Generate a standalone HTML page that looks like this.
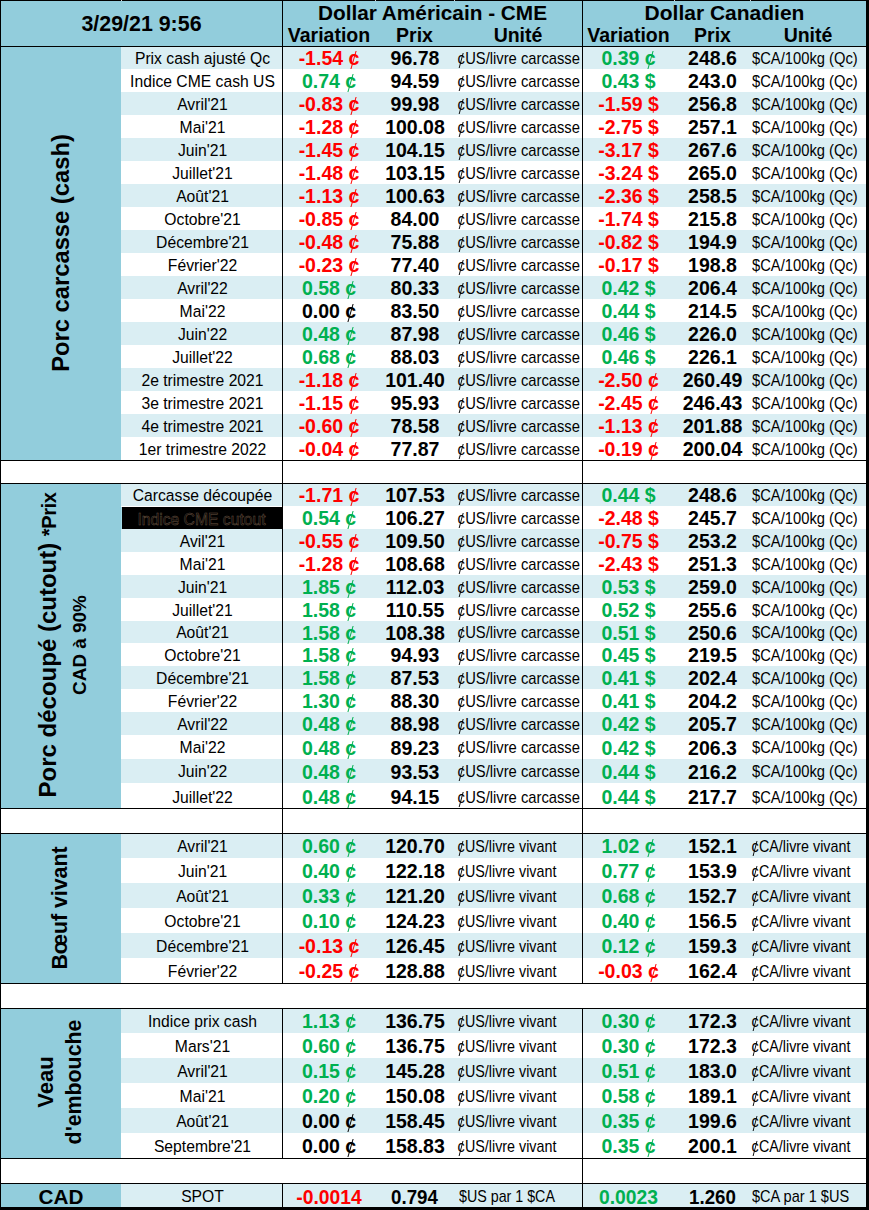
<!DOCTYPE html>
<html><head><meta charset="utf-8"><style>
html,body{margin:0;padding:0;background:#fff;}
body{width:869px;height:1210px;position:relative;overflow:hidden;font-family:"Liberation Sans",sans-serif;}
div{position:absolute;}
.t{white-space:nowrap;overflow:visible;}
.r{white-space:nowrap;font-weight:bold;text-align:center;transform:translate(-50%,-50%) rotate(-90deg);color:#000;}
.r span{position:static;}
.ct{position:relative;}
.cr{padding:0 0.028em;}
.ct::after{content:"";position:absolute;left:50%;top:0.2em;height:0.93em;width:1.2px;margin-left:-0.6px;background:currentColor;transform:skewX(-16deg);}
</style></head><body>
<div style="left:1px;top:1px;width:865px;height:45px;background:#92cddc;"></div>
<div style="left:121px;top:46px;width:745px;height:23px;background:#daeef3;"></div>
<div style="left:121px;top:69px;width:745px;height:23px;background:#ffffff;"></div>
<div style="left:121px;top:92px;width:745px;height:23px;background:#daeef3;"></div>
<div style="left:121px;top:115px;width:745px;height:23px;background:#ffffff;"></div>
<div style="left:121px;top:138px;width:745px;height:23px;background:#daeef3;"></div>
<div style="left:121px;top:161px;width:745px;height:23px;background:#ffffff;"></div>
<div style="left:121px;top:184px;width:745px;height:23px;background:#daeef3;"></div>
<div style="left:121px;top:207px;width:745px;height:23px;background:#ffffff;"></div>
<div style="left:121px;top:230px;width:745px;height:23px;background:#daeef3;"></div>
<div style="left:121px;top:253px;width:745px;height:23px;background:#ffffff;"></div>
<div style="left:121px;top:276px;width:745px;height:23px;background:#daeef3;"></div>
<div style="left:121px;top:299px;width:745px;height:23px;background:#ffffff;"></div>
<div style="left:121px;top:322px;width:745px;height:23px;background:#daeef3;"></div>
<div style="left:121px;top:345px;width:745px;height:23px;background:#ffffff;"></div>
<div style="left:121px;top:368px;width:745px;height:23px;background:#daeef3;"></div>
<div style="left:121px;top:391px;width:745px;height:23px;background:#ffffff;"></div>
<div style="left:121px;top:414px;width:745px;height:23px;background:#daeef3;"></div>
<div style="left:121px;top:437px;width:745px;height:23px;background:#ffffff;"></div>
<div style="left:1px;top:46px;width:120px;height:414px;background:#92cddc;"></div>
<div class="t" style="left:121.5px;top:47px;width:161px;height:23px;line-height:23px;font-size:16.8px;font-weight:normal;color:#000;text-align:center;transform:scaleX(0.935);transform-origin:center center;">Prix cash ajusté Qc</div>
<div class="t" style="left:283px;top:47px;width:92px;height:23px;line-height:23px;font-size:19.5px;font-weight:bold;color:#ff0000;text-align:center;">-1.54 <span class="ct">c</span></div>
<div class="t" style="left:375.5px;top:47px;width:79px;height:23px;line-height:23px;font-size:19.5px;font-weight:bold;color:#000;text-align:center;">96.78</div>
<div class="t" style="left:457px;top:47px;width:124px;height:23px;line-height:23px;font-size:15.7px;font-weight:normal;color:#000;text-align:left;transform:scaleX(0.94);transform-origin:left center;"><span class="ct cr">c</span>US/livre carcasse</div>
<div class="t" style="left:583px;top:47px;width:91px;height:23px;line-height:23px;font-size:19.5px;font-weight:bold;color:#00b050;text-align:center;">0.39 <span class="ct">c</span></div>
<div class="t" style="left:675px;top:47px;width:75px;height:23px;line-height:23px;font-size:19.5px;font-weight:bold;color:#000;text-align:center;">248.6</div>
<div class="t" style="left:752px;top:47px;width:114px;height:23px;line-height:23px;font-size:15.7px;font-weight:normal;color:#000;text-align:left;transform:scaleX(0.94);transform-origin:left center;">$CA/100kg (Qc)</div>
<div class="t" style="left:121.5px;top:70px;width:161px;height:23px;line-height:23px;font-size:16.8px;font-weight:normal;color:#000;text-align:center;transform:scaleX(0.935);transform-origin:center center;">Indice CME cash US</div>
<div class="t" style="left:283px;top:70px;width:92px;height:23px;line-height:23px;font-size:19.5px;font-weight:bold;color:#00b050;text-align:center;">0.74 <span class="ct">c</span></div>
<div class="t" style="left:375.5px;top:70px;width:79px;height:23px;line-height:23px;font-size:19.5px;font-weight:bold;color:#000;text-align:center;">94.59</div>
<div class="t" style="left:457px;top:70px;width:124px;height:23px;line-height:23px;font-size:15.7px;font-weight:normal;color:#000;text-align:left;transform:scaleX(0.94);transform-origin:left center;"><span class="ct cr">c</span>US/livre carcasse</div>
<div class="t" style="left:583px;top:70px;width:91px;height:23px;line-height:23px;font-size:19.5px;font-weight:bold;color:#00b050;text-align:center;">0.43 $</div>
<div class="t" style="left:675px;top:70px;width:75px;height:23px;line-height:23px;font-size:19.5px;font-weight:bold;color:#000;text-align:center;">243.0</div>
<div class="t" style="left:752px;top:70px;width:114px;height:23px;line-height:23px;font-size:15.7px;font-weight:normal;color:#000;text-align:left;transform:scaleX(0.94);transform-origin:left center;">$CA/100kg (Qc)</div>
<div class="t" style="left:121.5px;top:93px;width:161px;height:23px;line-height:23px;font-size:16.8px;font-weight:normal;color:#000;text-align:center;transform:scaleX(0.935);transform-origin:center center;">Avril'21</div>
<div class="t" style="left:283px;top:93px;width:92px;height:23px;line-height:23px;font-size:19.5px;font-weight:bold;color:#ff0000;text-align:center;">-0.83 <span class="ct">c</span></div>
<div class="t" style="left:375.5px;top:93px;width:79px;height:23px;line-height:23px;font-size:19.5px;font-weight:bold;color:#000;text-align:center;">99.98</div>
<div class="t" style="left:457px;top:93px;width:124px;height:23px;line-height:23px;font-size:15.7px;font-weight:normal;color:#000;text-align:left;transform:scaleX(0.94);transform-origin:left center;"><span class="ct cr">c</span>US/livre carcasse</div>
<div class="t" style="left:583px;top:93px;width:91px;height:23px;line-height:23px;font-size:19.5px;font-weight:bold;color:#ff0000;text-align:center;">-1.59 $</div>
<div class="t" style="left:675px;top:93px;width:75px;height:23px;line-height:23px;font-size:19.5px;font-weight:bold;color:#000;text-align:center;">256.8</div>
<div class="t" style="left:752px;top:93px;width:114px;height:23px;line-height:23px;font-size:15.7px;font-weight:normal;color:#000;text-align:left;transform:scaleX(0.94);transform-origin:left center;">$CA/100kg (Qc)</div>
<div class="t" style="left:121.5px;top:116px;width:161px;height:23px;line-height:23px;font-size:16.8px;font-weight:normal;color:#000;text-align:center;transform:scaleX(0.935);transform-origin:center center;">Mai'21</div>
<div class="t" style="left:283px;top:116px;width:92px;height:23px;line-height:23px;font-size:19.5px;font-weight:bold;color:#ff0000;text-align:center;">-1.28 <span class="ct">c</span></div>
<div class="t" style="left:375.5px;top:116px;width:79px;height:23px;line-height:23px;font-size:19.5px;font-weight:bold;color:#000;text-align:center;">100.08</div>
<div class="t" style="left:457px;top:116px;width:124px;height:23px;line-height:23px;font-size:15.7px;font-weight:normal;color:#000;text-align:left;transform:scaleX(0.94);transform-origin:left center;"><span class="ct cr">c</span>US/livre carcasse</div>
<div class="t" style="left:583px;top:116px;width:91px;height:23px;line-height:23px;font-size:19.5px;font-weight:bold;color:#ff0000;text-align:center;">-2.75 $</div>
<div class="t" style="left:675px;top:116px;width:75px;height:23px;line-height:23px;font-size:19.5px;font-weight:bold;color:#000;text-align:center;">257.1</div>
<div class="t" style="left:752px;top:116px;width:114px;height:23px;line-height:23px;font-size:15.7px;font-weight:normal;color:#000;text-align:left;transform:scaleX(0.94);transform-origin:left center;">$CA/100kg (Qc)</div>
<div class="t" style="left:121.5px;top:139px;width:161px;height:23px;line-height:23px;font-size:16.8px;font-weight:normal;color:#000;text-align:center;transform:scaleX(0.935);transform-origin:center center;">Juin'21</div>
<div class="t" style="left:283px;top:139px;width:92px;height:23px;line-height:23px;font-size:19.5px;font-weight:bold;color:#ff0000;text-align:center;">-1.45 <span class="ct">c</span></div>
<div class="t" style="left:375.5px;top:139px;width:79px;height:23px;line-height:23px;font-size:19.5px;font-weight:bold;color:#000;text-align:center;">104.15</div>
<div class="t" style="left:457px;top:139px;width:124px;height:23px;line-height:23px;font-size:15.7px;font-weight:normal;color:#000;text-align:left;transform:scaleX(0.94);transform-origin:left center;"><span class="ct cr">c</span>US/livre carcasse</div>
<div class="t" style="left:583px;top:139px;width:91px;height:23px;line-height:23px;font-size:19.5px;font-weight:bold;color:#ff0000;text-align:center;">-3.17 $</div>
<div class="t" style="left:675px;top:139px;width:75px;height:23px;line-height:23px;font-size:19.5px;font-weight:bold;color:#000;text-align:center;">267.6</div>
<div class="t" style="left:752px;top:139px;width:114px;height:23px;line-height:23px;font-size:15.7px;font-weight:normal;color:#000;text-align:left;transform:scaleX(0.94);transform-origin:left center;">$CA/100kg (Qc)</div>
<div class="t" style="left:121.5px;top:162px;width:161px;height:23px;line-height:23px;font-size:16.8px;font-weight:normal;color:#000;text-align:center;transform:scaleX(0.935);transform-origin:center center;">Juillet'21</div>
<div class="t" style="left:283px;top:162px;width:92px;height:23px;line-height:23px;font-size:19.5px;font-weight:bold;color:#ff0000;text-align:center;">-1.48 <span class="ct">c</span></div>
<div class="t" style="left:375.5px;top:162px;width:79px;height:23px;line-height:23px;font-size:19.5px;font-weight:bold;color:#000;text-align:center;">103.15</div>
<div class="t" style="left:457px;top:162px;width:124px;height:23px;line-height:23px;font-size:15.7px;font-weight:normal;color:#000;text-align:left;transform:scaleX(0.94);transform-origin:left center;"><span class="ct cr">c</span>US/livre carcasse</div>
<div class="t" style="left:583px;top:162px;width:91px;height:23px;line-height:23px;font-size:19.5px;font-weight:bold;color:#ff0000;text-align:center;">-3.24 $</div>
<div class="t" style="left:675px;top:162px;width:75px;height:23px;line-height:23px;font-size:19.5px;font-weight:bold;color:#000;text-align:center;">265.0</div>
<div class="t" style="left:752px;top:162px;width:114px;height:23px;line-height:23px;font-size:15.7px;font-weight:normal;color:#000;text-align:left;transform:scaleX(0.94);transform-origin:left center;">$CA/100kg (Qc)</div>
<div class="t" style="left:121.5px;top:185px;width:161px;height:23px;line-height:23px;font-size:16.8px;font-weight:normal;color:#000;text-align:center;transform:scaleX(0.935);transform-origin:center center;">Août'21</div>
<div class="t" style="left:283px;top:185px;width:92px;height:23px;line-height:23px;font-size:19.5px;font-weight:bold;color:#ff0000;text-align:center;">-1.13 <span class="ct">c</span></div>
<div class="t" style="left:375.5px;top:185px;width:79px;height:23px;line-height:23px;font-size:19.5px;font-weight:bold;color:#000;text-align:center;">100.63</div>
<div class="t" style="left:457px;top:185px;width:124px;height:23px;line-height:23px;font-size:15.7px;font-weight:normal;color:#000;text-align:left;transform:scaleX(0.94);transform-origin:left center;"><span class="ct cr">c</span>US/livre carcasse</div>
<div class="t" style="left:583px;top:185px;width:91px;height:23px;line-height:23px;font-size:19.5px;font-weight:bold;color:#ff0000;text-align:center;">-2.36 $</div>
<div class="t" style="left:675px;top:185px;width:75px;height:23px;line-height:23px;font-size:19.5px;font-weight:bold;color:#000;text-align:center;">258.5</div>
<div class="t" style="left:752px;top:185px;width:114px;height:23px;line-height:23px;font-size:15.7px;font-weight:normal;color:#000;text-align:left;transform:scaleX(0.94);transform-origin:left center;">$CA/100kg (Qc)</div>
<div class="t" style="left:121.5px;top:208px;width:161px;height:23px;line-height:23px;font-size:16.8px;font-weight:normal;color:#000;text-align:center;transform:scaleX(0.935);transform-origin:center center;">Octobre'21</div>
<div class="t" style="left:283px;top:208px;width:92px;height:23px;line-height:23px;font-size:19.5px;font-weight:bold;color:#ff0000;text-align:center;">-0.85 <span class="ct">c</span></div>
<div class="t" style="left:375.5px;top:208px;width:79px;height:23px;line-height:23px;font-size:19.5px;font-weight:bold;color:#000;text-align:center;">84.00</div>
<div class="t" style="left:457px;top:208px;width:124px;height:23px;line-height:23px;font-size:15.7px;font-weight:normal;color:#000;text-align:left;transform:scaleX(0.94);transform-origin:left center;"><span class="ct cr">c</span>US/livre carcasse</div>
<div class="t" style="left:583px;top:208px;width:91px;height:23px;line-height:23px;font-size:19.5px;font-weight:bold;color:#ff0000;text-align:center;">-1.74 $</div>
<div class="t" style="left:675px;top:208px;width:75px;height:23px;line-height:23px;font-size:19.5px;font-weight:bold;color:#000;text-align:center;">215.8</div>
<div class="t" style="left:752px;top:208px;width:114px;height:23px;line-height:23px;font-size:15.7px;font-weight:normal;color:#000;text-align:left;transform:scaleX(0.94);transform-origin:left center;">$CA/100kg (Qc)</div>
<div class="t" style="left:121.5px;top:231px;width:161px;height:23px;line-height:23px;font-size:16.8px;font-weight:normal;color:#000;text-align:center;transform:scaleX(0.935);transform-origin:center center;">Décembre'21</div>
<div class="t" style="left:283px;top:231px;width:92px;height:23px;line-height:23px;font-size:19.5px;font-weight:bold;color:#ff0000;text-align:center;">-0.48 <span class="ct">c</span></div>
<div class="t" style="left:375.5px;top:231px;width:79px;height:23px;line-height:23px;font-size:19.5px;font-weight:bold;color:#000;text-align:center;">75.88</div>
<div class="t" style="left:457px;top:231px;width:124px;height:23px;line-height:23px;font-size:15.7px;font-weight:normal;color:#000;text-align:left;transform:scaleX(0.94);transform-origin:left center;"><span class="ct cr">c</span>US/livre carcasse</div>
<div class="t" style="left:583px;top:231px;width:91px;height:23px;line-height:23px;font-size:19.5px;font-weight:bold;color:#ff0000;text-align:center;">-0.82 $</div>
<div class="t" style="left:675px;top:231px;width:75px;height:23px;line-height:23px;font-size:19.5px;font-weight:bold;color:#000;text-align:center;">194.9</div>
<div class="t" style="left:752px;top:231px;width:114px;height:23px;line-height:23px;font-size:15.7px;font-weight:normal;color:#000;text-align:left;transform:scaleX(0.94);transform-origin:left center;">$CA/100kg (Qc)</div>
<div class="t" style="left:121.5px;top:254px;width:161px;height:23px;line-height:23px;font-size:16.8px;font-weight:normal;color:#000;text-align:center;transform:scaleX(0.935);transform-origin:center center;">Février'22</div>
<div class="t" style="left:283px;top:254px;width:92px;height:23px;line-height:23px;font-size:19.5px;font-weight:bold;color:#ff0000;text-align:center;">-0.23 <span class="ct">c</span></div>
<div class="t" style="left:375.5px;top:254px;width:79px;height:23px;line-height:23px;font-size:19.5px;font-weight:bold;color:#000;text-align:center;">77.40</div>
<div class="t" style="left:457px;top:254px;width:124px;height:23px;line-height:23px;font-size:15.7px;font-weight:normal;color:#000;text-align:left;transform:scaleX(0.94);transform-origin:left center;"><span class="ct cr">c</span>US/livre carcasse</div>
<div class="t" style="left:583px;top:254px;width:91px;height:23px;line-height:23px;font-size:19.5px;font-weight:bold;color:#ff0000;text-align:center;">-0.17 $</div>
<div class="t" style="left:675px;top:254px;width:75px;height:23px;line-height:23px;font-size:19.5px;font-weight:bold;color:#000;text-align:center;">198.8</div>
<div class="t" style="left:752px;top:254px;width:114px;height:23px;line-height:23px;font-size:15.7px;font-weight:normal;color:#000;text-align:left;transform:scaleX(0.94);transform-origin:left center;">$CA/100kg (Qc)</div>
<div class="t" style="left:121.5px;top:277px;width:161px;height:23px;line-height:23px;font-size:16.8px;font-weight:normal;color:#000;text-align:center;transform:scaleX(0.935);transform-origin:center center;">Avril'22</div>
<div class="t" style="left:283px;top:277px;width:92px;height:23px;line-height:23px;font-size:19.5px;font-weight:bold;color:#00b050;text-align:center;">0.58 <span class="ct">c</span></div>
<div class="t" style="left:375.5px;top:277px;width:79px;height:23px;line-height:23px;font-size:19.5px;font-weight:bold;color:#000;text-align:center;">80.33</div>
<div class="t" style="left:457px;top:277px;width:124px;height:23px;line-height:23px;font-size:15.7px;font-weight:normal;color:#000;text-align:left;transform:scaleX(0.94);transform-origin:left center;"><span class="ct cr">c</span>US/livre carcasse</div>
<div class="t" style="left:583px;top:277px;width:91px;height:23px;line-height:23px;font-size:19.5px;font-weight:bold;color:#00b050;text-align:center;">0.42 $</div>
<div class="t" style="left:675px;top:277px;width:75px;height:23px;line-height:23px;font-size:19.5px;font-weight:bold;color:#000;text-align:center;">206.4</div>
<div class="t" style="left:752px;top:277px;width:114px;height:23px;line-height:23px;font-size:15.7px;font-weight:normal;color:#000;text-align:left;transform:scaleX(0.94);transform-origin:left center;">$CA/100kg (Qc)</div>
<div class="t" style="left:121.5px;top:300px;width:161px;height:23px;line-height:23px;font-size:16.8px;font-weight:normal;color:#000;text-align:center;transform:scaleX(0.935);transform-origin:center center;">Mai'22</div>
<div class="t" style="left:283px;top:300px;width:92px;height:23px;line-height:23px;font-size:19.5px;font-weight:bold;color:#000000;text-align:center;">0.00 <span class="ct">c</span></div>
<div class="t" style="left:375.5px;top:300px;width:79px;height:23px;line-height:23px;font-size:19.5px;font-weight:bold;color:#000;text-align:center;">83.50</div>
<div class="t" style="left:457px;top:300px;width:124px;height:23px;line-height:23px;font-size:15.7px;font-weight:normal;color:#000;text-align:left;transform:scaleX(0.94);transform-origin:left center;"><span class="ct cr">c</span>US/livre carcasse</div>
<div class="t" style="left:583px;top:300px;width:91px;height:23px;line-height:23px;font-size:19.5px;font-weight:bold;color:#00b050;text-align:center;">0.44 $</div>
<div class="t" style="left:675px;top:300px;width:75px;height:23px;line-height:23px;font-size:19.5px;font-weight:bold;color:#000;text-align:center;">214.5</div>
<div class="t" style="left:752px;top:300px;width:114px;height:23px;line-height:23px;font-size:15.7px;font-weight:normal;color:#000;text-align:left;transform:scaleX(0.94);transform-origin:left center;">$CA/100kg (Qc)</div>
<div class="t" style="left:121.5px;top:323px;width:161px;height:23px;line-height:23px;font-size:16.8px;font-weight:normal;color:#000;text-align:center;transform:scaleX(0.935);transform-origin:center center;">Juin'22</div>
<div class="t" style="left:283px;top:323px;width:92px;height:23px;line-height:23px;font-size:19.5px;font-weight:bold;color:#00b050;text-align:center;">0.48 <span class="ct">c</span></div>
<div class="t" style="left:375.5px;top:323px;width:79px;height:23px;line-height:23px;font-size:19.5px;font-weight:bold;color:#000;text-align:center;">87.98</div>
<div class="t" style="left:457px;top:323px;width:124px;height:23px;line-height:23px;font-size:15.7px;font-weight:normal;color:#000;text-align:left;transform:scaleX(0.94);transform-origin:left center;"><span class="ct cr">c</span>US/livre carcasse</div>
<div class="t" style="left:583px;top:323px;width:91px;height:23px;line-height:23px;font-size:19.5px;font-weight:bold;color:#00b050;text-align:center;">0.46 $</div>
<div class="t" style="left:675px;top:323px;width:75px;height:23px;line-height:23px;font-size:19.5px;font-weight:bold;color:#000;text-align:center;">226.0</div>
<div class="t" style="left:752px;top:323px;width:114px;height:23px;line-height:23px;font-size:15.7px;font-weight:normal;color:#000;text-align:left;transform:scaleX(0.94);transform-origin:left center;">$CA/100kg (Qc)</div>
<div class="t" style="left:121.5px;top:346px;width:161px;height:23px;line-height:23px;font-size:16.8px;font-weight:normal;color:#000;text-align:center;transform:scaleX(0.935);transform-origin:center center;">Juillet'22</div>
<div class="t" style="left:283px;top:346px;width:92px;height:23px;line-height:23px;font-size:19.5px;font-weight:bold;color:#00b050;text-align:center;">0.68 <span class="ct">c</span></div>
<div class="t" style="left:375.5px;top:346px;width:79px;height:23px;line-height:23px;font-size:19.5px;font-weight:bold;color:#000;text-align:center;">88.03</div>
<div class="t" style="left:457px;top:346px;width:124px;height:23px;line-height:23px;font-size:15.7px;font-weight:normal;color:#000;text-align:left;transform:scaleX(0.94);transform-origin:left center;"><span class="ct cr">c</span>US/livre carcasse</div>
<div class="t" style="left:583px;top:346px;width:91px;height:23px;line-height:23px;font-size:19.5px;font-weight:bold;color:#00b050;text-align:center;">0.46 $</div>
<div class="t" style="left:675px;top:346px;width:75px;height:23px;line-height:23px;font-size:19.5px;font-weight:bold;color:#000;text-align:center;">226.1</div>
<div class="t" style="left:752px;top:346px;width:114px;height:23px;line-height:23px;font-size:15.7px;font-weight:normal;color:#000;text-align:left;transform:scaleX(0.94);transform-origin:left center;">$CA/100kg (Qc)</div>
<div class="t" style="left:121.5px;top:369px;width:161px;height:23px;line-height:23px;font-size:16.8px;font-weight:normal;color:#000;text-align:center;transform:scaleX(0.935);transform-origin:center center;">2e trimestre 2021</div>
<div class="t" style="left:283px;top:369px;width:92px;height:23px;line-height:23px;font-size:19.5px;font-weight:bold;color:#ff0000;text-align:center;">-1.18 <span class="ct">c</span></div>
<div class="t" style="left:375.5px;top:369px;width:79px;height:23px;line-height:23px;font-size:19.5px;font-weight:bold;color:#000;text-align:center;">101.40</div>
<div class="t" style="left:457px;top:369px;width:124px;height:23px;line-height:23px;font-size:15.7px;font-weight:normal;color:#000;text-align:left;transform:scaleX(0.94);transform-origin:left center;"><span class="ct cr">c</span>US/livre carcasse</div>
<div class="t" style="left:583px;top:369px;width:91px;height:23px;line-height:23px;font-size:19.5px;font-weight:bold;color:#ff0000;text-align:center;">-2.50 <span class="ct">c</span></div>
<div class="t" style="left:675px;top:369px;width:75px;height:23px;line-height:23px;font-size:19.5px;font-weight:bold;color:#000;text-align:center;">260.49</div>
<div class="t" style="left:752px;top:369px;width:114px;height:23px;line-height:23px;font-size:15.7px;font-weight:normal;color:#000;text-align:left;transform:scaleX(0.94);transform-origin:left center;">$CA/100kg (Qc)</div>
<div class="t" style="left:121.5px;top:392px;width:161px;height:23px;line-height:23px;font-size:16.8px;font-weight:normal;color:#000;text-align:center;transform:scaleX(0.935);transform-origin:center center;">3e trimestre 2021</div>
<div class="t" style="left:283px;top:392px;width:92px;height:23px;line-height:23px;font-size:19.5px;font-weight:bold;color:#ff0000;text-align:center;">-1.15 <span class="ct">c</span></div>
<div class="t" style="left:375.5px;top:392px;width:79px;height:23px;line-height:23px;font-size:19.5px;font-weight:bold;color:#000;text-align:center;">95.93</div>
<div class="t" style="left:457px;top:392px;width:124px;height:23px;line-height:23px;font-size:15.7px;font-weight:normal;color:#000;text-align:left;transform:scaleX(0.94);transform-origin:left center;"><span class="ct cr">c</span>US/livre carcasse</div>
<div class="t" style="left:583px;top:392px;width:91px;height:23px;line-height:23px;font-size:19.5px;font-weight:bold;color:#ff0000;text-align:center;">-2.45 <span class="ct">c</span></div>
<div class="t" style="left:675px;top:392px;width:75px;height:23px;line-height:23px;font-size:19.5px;font-weight:bold;color:#000;text-align:center;">246.43</div>
<div class="t" style="left:752px;top:392px;width:114px;height:23px;line-height:23px;font-size:15.7px;font-weight:normal;color:#000;text-align:left;transform:scaleX(0.94);transform-origin:left center;">$CA/100kg (Qc)</div>
<div class="t" style="left:121.5px;top:415px;width:161px;height:23px;line-height:23px;font-size:16.8px;font-weight:normal;color:#000;text-align:center;transform:scaleX(0.935);transform-origin:center center;">4e trimestre 2021</div>
<div class="t" style="left:283px;top:415px;width:92px;height:23px;line-height:23px;font-size:19.5px;font-weight:bold;color:#ff0000;text-align:center;">-0.60 <span class="ct">c</span></div>
<div class="t" style="left:375.5px;top:415px;width:79px;height:23px;line-height:23px;font-size:19.5px;font-weight:bold;color:#000;text-align:center;">78.58</div>
<div class="t" style="left:457px;top:415px;width:124px;height:23px;line-height:23px;font-size:15.7px;font-weight:normal;color:#000;text-align:left;transform:scaleX(0.94);transform-origin:left center;"><span class="ct cr">c</span>US/livre carcasse</div>
<div class="t" style="left:583px;top:415px;width:91px;height:23px;line-height:23px;font-size:19.5px;font-weight:bold;color:#ff0000;text-align:center;">-1.13 <span class="ct">c</span></div>
<div class="t" style="left:675px;top:415px;width:75px;height:23px;line-height:23px;font-size:19.5px;font-weight:bold;color:#000;text-align:center;">201.88</div>
<div class="t" style="left:752px;top:415px;width:114px;height:23px;line-height:23px;font-size:15.7px;font-weight:normal;color:#000;text-align:left;transform:scaleX(0.94);transform-origin:left center;">$CA/100kg (Qc)</div>
<div class="t" style="left:121.5px;top:438px;width:161px;height:23px;line-height:23px;font-size:16.8px;font-weight:normal;color:#000;text-align:center;transform:scaleX(0.935);transform-origin:center center;">1er trimestre 2022</div>
<div class="t" style="left:283px;top:438px;width:92px;height:23px;line-height:23px;font-size:19.5px;font-weight:bold;color:#ff0000;text-align:center;">-0.04 <span class="ct">c</span></div>
<div class="t" style="left:375.5px;top:438px;width:79px;height:23px;line-height:23px;font-size:19.5px;font-weight:bold;color:#000;text-align:center;">77.87</div>
<div class="t" style="left:457px;top:438px;width:124px;height:23px;line-height:23px;font-size:15.7px;font-weight:normal;color:#000;text-align:left;transform:scaleX(0.94);transform-origin:left center;"><span class="ct cr">c</span>US/livre carcasse</div>
<div class="t" style="left:583px;top:438px;width:91px;height:23px;line-height:23px;font-size:19.5px;font-weight:bold;color:#ff0000;text-align:center;">-0.19 <span class="ct">c</span></div>
<div class="t" style="left:675px;top:438px;width:75px;height:23px;line-height:23px;font-size:19.5px;font-weight:bold;color:#000;text-align:center;">200.04</div>
<div class="t" style="left:752px;top:438px;width:114px;height:23px;line-height:23px;font-size:15.7px;font-weight:normal;color:#000;text-align:left;transform:scaleX(0.94);transform-origin:left center;">$CA/100kg (Qc)</div>
<div style="left:121px;top:483px;width:745px;height:23px;background:#daeef3;"></div>
<div style="left:121px;top:506px;width:745px;height:23px;background:#ffffff;"></div>
<div style="left:121px;top:529px;width:745px;height:23px;background:#daeef3;"></div>
<div style="left:121px;top:552px;width:745px;height:23px;background:#ffffff;"></div>
<div style="left:121px;top:575px;width:745px;height:23px;background:#daeef3;"></div>
<div style="left:121px;top:598px;width:745px;height:23px;background:#ffffff;"></div>
<div style="left:121px;top:621px;width:745px;height:22px;background:#daeef3;"></div>
<div style="left:121px;top:643px;width:745px;height:23px;background:#ffffff;"></div>
<div style="left:121px;top:666px;width:745px;height:23px;background:#daeef3;"></div>
<div style="left:121px;top:689px;width:745px;height:23px;background:#ffffff;"></div>
<div style="left:121px;top:712px;width:745px;height:23px;background:#daeef3;"></div>
<div style="left:121px;top:735px;width:745px;height:24px;background:#ffffff;"></div>
<div style="left:121px;top:759px;width:745px;height:24px;background:#daeef3;"></div>
<div style="left:121px;top:783px;width:745px;height:25px;background:#ffffff;"></div>
<div style="left:1px;top:483px;width:120px;height:325px;background:#92cddc;"></div>
<div class="t" style="left:121.5px;top:484px;width:161px;height:23px;line-height:23px;font-size:16.8px;font-weight:normal;color:#000;text-align:center;transform:scaleX(0.935);transform-origin:center center;">Carcasse découpée</div>
<div class="t" style="left:283px;top:484px;width:92px;height:23px;line-height:23px;font-size:19.5px;font-weight:bold;color:#ff0000;text-align:center;">-1.71 <span class="ct">c</span></div>
<div class="t" style="left:375.5px;top:484px;width:79px;height:23px;line-height:23px;font-size:19.5px;font-weight:bold;color:#000;text-align:center;">107.53</div>
<div class="t" style="left:457px;top:484px;width:124px;height:23px;line-height:23px;font-size:15.7px;font-weight:normal;color:#000;text-align:left;transform:scaleX(0.94);transform-origin:left center;"><span class="ct cr">c</span>US/livre carcasse</div>
<div class="t" style="left:583px;top:484px;width:91px;height:23px;line-height:23px;font-size:19.5px;font-weight:bold;color:#00b050;text-align:center;">0.44 $</div>
<div class="t" style="left:675px;top:484px;width:75px;height:23px;line-height:23px;font-size:19.5px;font-weight:bold;color:#000;text-align:center;">248.6</div>
<div class="t" style="left:752px;top:484px;width:114px;height:23px;line-height:23px;font-size:15.7px;font-weight:normal;color:#000;text-align:left;transform:scaleX(0.94);transform-origin:left center;">$CA/100kg (Qc)</div>
<div class="t" style="left:283px;top:507px;width:92px;height:23px;line-height:23px;font-size:19.5px;font-weight:bold;color:#00b050;text-align:center;">0.54 <span class="ct">c</span></div>
<div class="t" style="left:375.5px;top:507px;width:79px;height:23px;line-height:23px;font-size:19.5px;font-weight:bold;color:#000;text-align:center;">106.27</div>
<div class="t" style="left:457px;top:507px;width:124px;height:23px;line-height:23px;font-size:15.7px;font-weight:normal;color:#000;text-align:left;transform:scaleX(0.94);transform-origin:left center;"><span class="ct cr">c</span>US/livre carcasse</div>
<div class="t" style="left:583px;top:507px;width:91px;height:23px;line-height:23px;font-size:19.5px;font-weight:bold;color:#ff0000;text-align:center;">-2.48 $</div>
<div class="t" style="left:675px;top:507px;width:75px;height:23px;line-height:23px;font-size:19.5px;font-weight:bold;color:#000;text-align:center;">245.7</div>
<div class="t" style="left:752px;top:507px;width:114px;height:23px;line-height:23px;font-size:15.7px;font-weight:normal;color:#000;text-align:left;transform:scaleX(0.94);transform-origin:left center;">$CA/100kg (Qc)</div>
<div class="t" style="left:121.5px;top:530px;width:161px;height:23px;line-height:23px;font-size:16.8px;font-weight:normal;color:#000;text-align:center;transform:scaleX(0.935);transform-origin:center center;">Avil'21</div>
<div class="t" style="left:283px;top:530px;width:92px;height:23px;line-height:23px;font-size:19.5px;font-weight:bold;color:#ff0000;text-align:center;">-0.55 <span class="ct">c</span></div>
<div class="t" style="left:375.5px;top:530px;width:79px;height:23px;line-height:23px;font-size:19.5px;font-weight:bold;color:#000;text-align:center;">109.50</div>
<div class="t" style="left:457px;top:530px;width:124px;height:23px;line-height:23px;font-size:15.7px;font-weight:normal;color:#000;text-align:left;transform:scaleX(0.94);transform-origin:left center;"><span class="ct cr">c</span>US/livre carcasse</div>
<div class="t" style="left:583px;top:530px;width:91px;height:23px;line-height:23px;font-size:19.5px;font-weight:bold;color:#ff0000;text-align:center;">-0.75 $</div>
<div class="t" style="left:675px;top:530px;width:75px;height:23px;line-height:23px;font-size:19.5px;font-weight:bold;color:#000;text-align:center;">253.2</div>
<div class="t" style="left:752px;top:530px;width:114px;height:23px;line-height:23px;font-size:15.7px;font-weight:normal;color:#000;text-align:left;transform:scaleX(0.94);transform-origin:left center;">$CA/100kg (Qc)</div>
<div class="t" style="left:121.5px;top:553px;width:161px;height:23px;line-height:23px;font-size:16.8px;font-weight:normal;color:#000;text-align:center;transform:scaleX(0.935);transform-origin:center center;">Mai'21</div>
<div class="t" style="left:283px;top:553px;width:92px;height:23px;line-height:23px;font-size:19.5px;font-weight:bold;color:#ff0000;text-align:center;">-1.28 <span class="ct">c</span></div>
<div class="t" style="left:375.5px;top:553px;width:79px;height:23px;line-height:23px;font-size:19.5px;font-weight:bold;color:#000;text-align:center;">108.68</div>
<div class="t" style="left:457px;top:553px;width:124px;height:23px;line-height:23px;font-size:15.7px;font-weight:normal;color:#000;text-align:left;transform:scaleX(0.94);transform-origin:left center;"><span class="ct cr">c</span>US/livre carcasse</div>
<div class="t" style="left:583px;top:553px;width:91px;height:23px;line-height:23px;font-size:19.5px;font-weight:bold;color:#ff0000;text-align:center;">-2.43 $</div>
<div class="t" style="left:675px;top:553px;width:75px;height:23px;line-height:23px;font-size:19.5px;font-weight:bold;color:#000;text-align:center;">251.3</div>
<div class="t" style="left:752px;top:553px;width:114px;height:23px;line-height:23px;font-size:15.7px;font-weight:normal;color:#000;text-align:left;transform:scaleX(0.94);transform-origin:left center;">$CA/100kg (Qc)</div>
<div class="t" style="left:121.5px;top:576px;width:161px;height:23px;line-height:23px;font-size:16.8px;font-weight:normal;color:#000;text-align:center;transform:scaleX(0.935);transform-origin:center center;">Juin'21</div>
<div class="t" style="left:283px;top:576px;width:92px;height:23px;line-height:23px;font-size:19.5px;font-weight:bold;color:#00b050;text-align:center;">1.85 <span class="ct">c</span></div>
<div class="t" style="left:375.5px;top:576px;width:79px;height:23px;line-height:23px;font-size:19.5px;font-weight:bold;color:#000;text-align:center;">112.03</div>
<div class="t" style="left:457px;top:576px;width:124px;height:23px;line-height:23px;font-size:15.7px;font-weight:normal;color:#000;text-align:left;transform:scaleX(0.94);transform-origin:left center;"><span class="ct cr">c</span>US/livre carcasse</div>
<div class="t" style="left:583px;top:576px;width:91px;height:23px;line-height:23px;font-size:19.5px;font-weight:bold;color:#00b050;text-align:center;">0.53 $</div>
<div class="t" style="left:675px;top:576px;width:75px;height:23px;line-height:23px;font-size:19.5px;font-weight:bold;color:#000;text-align:center;">259.0</div>
<div class="t" style="left:752px;top:576px;width:114px;height:23px;line-height:23px;font-size:15.7px;font-weight:normal;color:#000;text-align:left;transform:scaleX(0.94);transform-origin:left center;">$CA/100kg (Qc)</div>
<div class="t" style="left:121.5px;top:599px;width:161px;height:23px;line-height:23px;font-size:16.8px;font-weight:normal;color:#000;text-align:center;transform:scaleX(0.935);transform-origin:center center;">Juillet'21</div>
<div class="t" style="left:283px;top:599px;width:92px;height:23px;line-height:23px;font-size:19.5px;font-weight:bold;color:#00b050;text-align:center;">1.58 <span class="ct">c</span></div>
<div class="t" style="left:375.5px;top:599px;width:79px;height:23px;line-height:23px;font-size:19.5px;font-weight:bold;color:#000;text-align:center;">110.55</div>
<div class="t" style="left:457px;top:599px;width:124px;height:23px;line-height:23px;font-size:15.7px;font-weight:normal;color:#000;text-align:left;transform:scaleX(0.94);transform-origin:left center;"><span class="ct cr">c</span>US/livre carcasse</div>
<div class="t" style="left:583px;top:599px;width:91px;height:23px;line-height:23px;font-size:19.5px;font-weight:bold;color:#00b050;text-align:center;">0.52 $</div>
<div class="t" style="left:675px;top:599px;width:75px;height:23px;line-height:23px;font-size:19.5px;font-weight:bold;color:#000;text-align:center;">255.6</div>
<div class="t" style="left:752px;top:599px;width:114px;height:23px;line-height:23px;font-size:15.7px;font-weight:normal;color:#000;text-align:left;transform:scaleX(0.94);transform-origin:left center;">$CA/100kg (Qc)</div>
<div class="t" style="left:121.5px;top:622px;width:161px;height:22px;line-height:22px;font-size:16.8px;font-weight:normal;color:#000;text-align:center;transform:scaleX(0.935);transform-origin:center center;">Août'21</div>
<div class="t" style="left:283px;top:622px;width:92px;height:22px;line-height:22px;font-size:19.5px;font-weight:bold;color:#00b050;text-align:center;">1.58 <span class="ct">c</span></div>
<div class="t" style="left:375.5px;top:622px;width:79px;height:22px;line-height:22px;font-size:19.5px;font-weight:bold;color:#000;text-align:center;">108.38</div>
<div class="t" style="left:457px;top:622px;width:124px;height:22px;line-height:22px;font-size:15.7px;font-weight:normal;color:#000;text-align:left;transform:scaleX(0.94);transform-origin:left center;"><span class="ct cr">c</span>US/livre carcasse</div>
<div class="t" style="left:583px;top:622px;width:91px;height:22px;line-height:22px;font-size:19.5px;font-weight:bold;color:#00b050;text-align:center;">0.51 $</div>
<div class="t" style="left:675px;top:622px;width:75px;height:22px;line-height:22px;font-size:19.5px;font-weight:bold;color:#000;text-align:center;">250.6</div>
<div class="t" style="left:752px;top:622px;width:114px;height:22px;line-height:22px;font-size:15.7px;font-weight:normal;color:#000;text-align:left;transform:scaleX(0.94);transform-origin:left center;">$CA/100kg (Qc)</div>
<div class="t" style="left:121.5px;top:644px;width:161px;height:23px;line-height:23px;font-size:16.8px;font-weight:normal;color:#000;text-align:center;transform:scaleX(0.935);transform-origin:center center;">Octobre'21</div>
<div class="t" style="left:283px;top:644px;width:92px;height:23px;line-height:23px;font-size:19.5px;font-weight:bold;color:#00b050;text-align:center;">1.58 <span class="ct">c</span></div>
<div class="t" style="left:375.5px;top:644px;width:79px;height:23px;line-height:23px;font-size:19.5px;font-weight:bold;color:#000;text-align:center;">94.93</div>
<div class="t" style="left:457px;top:644px;width:124px;height:23px;line-height:23px;font-size:15.7px;font-weight:normal;color:#000;text-align:left;transform:scaleX(0.94);transform-origin:left center;"><span class="ct cr">c</span>US/livre carcasse</div>
<div class="t" style="left:583px;top:644px;width:91px;height:23px;line-height:23px;font-size:19.5px;font-weight:bold;color:#00b050;text-align:center;">0.45 $</div>
<div class="t" style="left:675px;top:644px;width:75px;height:23px;line-height:23px;font-size:19.5px;font-weight:bold;color:#000;text-align:center;">219.5</div>
<div class="t" style="left:752px;top:644px;width:114px;height:23px;line-height:23px;font-size:15.7px;font-weight:normal;color:#000;text-align:left;transform:scaleX(0.94);transform-origin:left center;">$CA/100kg (Qc)</div>
<div class="t" style="left:121.5px;top:667px;width:161px;height:23px;line-height:23px;font-size:16.8px;font-weight:normal;color:#000;text-align:center;transform:scaleX(0.935);transform-origin:center center;">Décembre'21</div>
<div class="t" style="left:283px;top:667px;width:92px;height:23px;line-height:23px;font-size:19.5px;font-weight:bold;color:#00b050;text-align:center;">1.58 <span class="ct">c</span></div>
<div class="t" style="left:375.5px;top:667px;width:79px;height:23px;line-height:23px;font-size:19.5px;font-weight:bold;color:#000;text-align:center;">87.53</div>
<div class="t" style="left:457px;top:667px;width:124px;height:23px;line-height:23px;font-size:15.7px;font-weight:normal;color:#000;text-align:left;transform:scaleX(0.94);transform-origin:left center;"><span class="ct cr">c</span>US/livre carcasse</div>
<div class="t" style="left:583px;top:667px;width:91px;height:23px;line-height:23px;font-size:19.5px;font-weight:bold;color:#00b050;text-align:center;">0.41 $</div>
<div class="t" style="left:675px;top:667px;width:75px;height:23px;line-height:23px;font-size:19.5px;font-weight:bold;color:#000;text-align:center;">202.4</div>
<div class="t" style="left:752px;top:667px;width:114px;height:23px;line-height:23px;font-size:15.7px;font-weight:normal;color:#000;text-align:left;transform:scaleX(0.94);transform-origin:left center;">$CA/100kg (Qc)</div>
<div class="t" style="left:121.5px;top:690px;width:161px;height:23px;line-height:23px;font-size:16.8px;font-weight:normal;color:#000;text-align:center;transform:scaleX(0.935);transform-origin:center center;">Février'22</div>
<div class="t" style="left:283px;top:690px;width:92px;height:23px;line-height:23px;font-size:19.5px;font-weight:bold;color:#00b050;text-align:center;">1.30 <span class="ct">c</span></div>
<div class="t" style="left:375.5px;top:690px;width:79px;height:23px;line-height:23px;font-size:19.5px;font-weight:bold;color:#000;text-align:center;">88.30</div>
<div class="t" style="left:457px;top:690px;width:124px;height:23px;line-height:23px;font-size:15.7px;font-weight:normal;color:#000;text-align:left;transform:scaleX(0.94);transform-origin:left center;"><span class="ct cr">c</span>US/livre carcasse</div>
<div class="t" style="left:583px;top:690px;width:91px;height:23px;line-height:23px;font-size:19.5px;font-weight:bold;color:#00b050;text-align:center;">0.41 $</div>
<div class="t" style="left:675px;top:690px;width:75px;height:23px;line-height:23px;font-size:19.5px;font-weight:bold;color:#000;text-align:center;">204.2</div>
<div class="t" style="left:752px;top:690px;width:114px;height:23px;line-height:23px;font-size:15.7px;font-weight:normal;color:#000;text-align:left;transform:scaleX(0.94);transform-origin:left center;">$CA/100kg (Qc)</div>
<div class="t" style="left:121.5px;top:713px;width:161px;height:23px;line-height:23px;font-size:16.8px;font-weight:normal;color:#000;text-align:center;transform:scaleX(0.935);transform-origin:center center;">Avril'22</div>
<div class="t" style="left:283px;top:713px;width:92px;height:23px;line-height:23px;font-size:19.5px;font-weight:bold;color:#00b050;text-align:center;">0.48 <span class="ct">c</span></div>
<div class="t" style="left:375.5px;top:713px;width:79px;height:23px;line-height:23px;font-size:19.5px;font-weight:bold;color:#000;text-align:center;">88.98</div>
<div class="t" style="left:457px;top:713px;width:124px;height:23px;line-height:23px;font-size:15.7px;font-weight:normal;color:#000;text-align:left;transform:scaleX(0.94);transform-origin:left center;"><span class="ct cr">c</span>US/livre carcasse</div>
<div class="t" style="left:583px;top:713px;width:91px;height:23px;line-height:23px;font-size:19.5px;font-weight:bold;color:#00b050;text-align:center;">0.42 $</div>
<div class="t" style="left:675px;top:713px;width:75px;height:23px;line-height:23px;font-size:19.5px;font-weight:bold;color:#000;text-align:center;">205.7</div>
<div class="t" style="left:752px;top:713px;width:114px;height:23px;line-height:23px;font-size:15.7px;font-weight:normal;color:#000;text-align:left;transform:scaleX(0.94);transform-origin:left center;">$CA/100kg (Qc)</div>
<div class="t" style="left:121.5px;top:736px;width:161px;height:24px;line-height:24px;font-size:16.8px;font-weight:normal;color:#000;text-align:center;transform:scaleX(0.935);transform-origin:center center;">Mai'22</div>
<div class="t" style="left:283px;top:736px;width:92px;height:24px;line-height:24px;font-size:19.5px;font-weight:bold;color:#00b050;text-align:center;">0.48 <span class="ct">c</span></div>
<div class="t" style="left:375.5px;top:736px;width:79px;height:24px;line-height:24px;font-size:19.5px;font-weight:bold;color:#000;text-align:center;">89.23</div>
<div class="t" style="left:457px;top:736px;width:124px;height:24px;line-height:24px;font-size:15.7px;font-weight:normal;color:#000;text-align:left;transform:scaleX(0.94);transform-origin:left center;"><span class="ct cr">c</span>US/livre carcasse</div>
<div class="t" style="left:583px;top:736px;width:91px;height:24px;line-height:24px;font-size:19.5px;font-weight:bold;color:#00b050;text-align:center;">0.42 $</div>
<div class="t" style="left:675px;top:736px;width:75px;height:24px;line-height:24px;font-size:19.5px;font-weight:bold;color:#000;text-align:center;">206.3</div>
<div class="t" style="left:752px;top:736px;width:114px;height:24px;line-height:24px;font-size:15.7px;font-weight:normal;color:#000;text-align:left;transform:scaleX(0.94);transform-origin:left center;">$CA/100kg (Qc)</div>
<div class="t" style="left:121.5px;top:760px;width:161px;height:24px;line-height:24px;font-size:16.8px;font-weight:normal;color:#000;text-align:center;transform:scaleX(0.935);transform-origin:center center;">Juin'22</div>
<div class="t" style="left:283px;top:760px;width:92px;height:24px;line-height:24px;font-size:19.5px;font-weight:bold;color:#00b050;text-align:center;">0.48 <span class="ct">c</span></div>
<div class="t" style="left:375.5px;top:760px;width:79px;height:24px;line-height:24px;font-size:19.5px;font-weight:bold;color:#000;text-align:center;">93.53</div>
<div class="t" style="left:457px;top:760px;width:124px;height:24px;line-height:24px;font-size:15.7px;font-weight:normal;color:#000;text-align:left;transform:scaleX(0.94);transform-origin:left center;"><span class="ct cr">c</span>US/livre carcasse</div>
<div class="t" style="left:583px;top:760px;width:91px;height:24px;line-height:24px;font-size:19.5px;font-weight:bold;color:#00b050;text-align:center;">0.44 $</div>
<div class="t" style="left:675px;top:760px;width:75px;height:24px;line-height:24px;font-size:19.5px;font-weight:bold;color:#000;text-align:center;">216.2</div>
<div class="t" style="left:752px;top:760px;width:114px;height:24px;line-height:24px;font-size:15.7px;font-weight:normal;color:#000;text-align:left;transform:scaleX(0.94);transform-origin:left center;">$CA/100kg (Qc)</div>
<div class="t" style="left:121.5px;top:785px;width:161px;height:25px;line-height:25px;font-size:16.8px;font-weight:normal;color:#000;text-align:center;transform:scaleX(0.935);transform-origin:center center;">Juillet'22</div>
<div class="t" style="left:283px;top:785px;width:92px;height:25px;line-height:25px;font-size:19.5px;font-weight:bold;color:#00b050;text-align:center;">0.48 <span class="ct">c</span></div>
<div class="t" style="left:375.5px;top:785px;width:79px;height:25px;line-height:25px;font-size:19.5px;font-weight:bold;color:#000;text-align:center;">94.15</div>
<div class="t" style="left:457px;top:785px;width:124px;height:25px;line-height:25px;font-size:15.7px;font-weight:normal;color:#000;text-align:left;transform:scaleX(0.94);transform-origin:left center;"><span class="ct cr">c</span>US/livre carcasse</div>
<div class="t" style="left:583px;top:785px;width:91px;height:25px;line-height:25px;font-size:19.5px;font-weight:bold;color:#00b050;text-align:center;">0.44 $</div>
<div class="t" style="left:675px;top:785px;width:75px;height:25px;line-height:25px;font-size:19.5px;font-weight:bold;color:#000;text-align:center;">217.7</div>
<div class="t" style="left:752px;top:785px;width:114px;height:25px;line-height:25px;font-size:15.7px;font-weight:normal;color:#000;text-align:left;transform:scaleX(0.94);transform-origin:left center;">$CA/100kg (Qc)</div>
<div style="left:121px;top:833px;width:745px;height:25px;background:#daeef3;"></div>
<div style="left:121px;top:858px;width:745px;height:25px;background:#ffffff;"></div>
<div style="left:121px;top:883px;width:745px;height:25px;background:#daeef3;"></div>
<div style="left:121px;top:908px;width:745px;height:25px;background:#ffffff;"></div>
<div style="left:121px;top:933px;width:745px;height:25px;background:#daeef3;"></div>
<div style="left:121px;top:958px;width:745px;height:25px;background:#ffffff;"></div>
<div style="left:1px;top:833px;width:120px;height:150px;background:#92cddc;"></div>
<div class="t" style="left:121.5px;top:834px;width:161px;height:25px;line-height:25px;font-size:16.8px;font-weight:normal;color:#000;text-align:center;transform:scaleX(0.935);transform-origin:center center;">Avril'21</div>
<div class="t" style="left:283px;top:834px;width:92px;height:25px;line-height:25px;font-size:19.5px;font-weight:bold;color:#00b050;text-align:center;">0.60 <span class="ct">c</span></div>
<div class="t" style="left:375.5px;top:834px;width:79px;height:25px;line-height:25px;font-size:19.5px;font-weight:bold;color:#000;text-align:center;">120.70</div>
<div class="t" style="left:457px;top:834px;width:124px;height:25px;line-height:25px;font-size:15.7px;font-weight:normal;color:#000;text-align:left;transform:scaleX(0.912);transform-origin:left center;"><span class="ct cr">c</span>US/livre vivant</div>
<div class="t" style="left:583px;top:834px;width:91px;height:25px;line-height:25px;font-size:19.5px;font-weight:bold;color:#00b050;text-align:center;">1.02 <span class="ct">c</span></div>
<div class="t" style="left:675px;top:834px;width:75px;height:25px;line-height:25px;font-size:19.5px;font-weight:bold;color:#000;text-align:center;">152.1</div>
<div class="t" style="left:751px;top:834px;width:114px;height:25px;line-height:25px;font-size:15.7px;font-weight:normal;color:#000;text-align:left;transform:scaleX(0.912);transform-origin:left center;"><span class="ct cr">c</span>CA/livre vivant</div>
<div class="t" style="left:121.5px;top:859px;width:161px;height:25px;line-height:25px;font-size:16.8px;font-weight:normal;color:#000;text-align:center;transform:scaleX(0.935);transform-origin:center center;">Juin'21</div>
<div class="t" style="left:283px;top:859px;width:92px;height:25px;line-height:25px;font-size:19.5px;font-weight:bold;color:#00b050;text-align:center;">0.40 <span class="ct">c</span></div>
<div class="t" style="left:375.5px;top:859px;width:79px;height:25px;line-height:25px;font-size:19.5px;font-weight:bold;color:#000;text-align:center;">122.18</div>
<div class="t" style="left:457px;top:859px;width:124px;height:25px;line-height:25px;font-size:15.7px;font-weight:normal;color:#000;text-align:left;transform:scaleX(0.912);transform-origin:left center;"><span class="ct cr">c</span>US/livre vivant</div>
<div class="t" style="left:583px;top:859px;width:91px;height:25px;line-height:25px;font-size:19.5px;font-weight:bold;color:#00b050;text-align:center;">0.77 <span class="ct">c</span></div>
<div class="t" style="left:675px;top:859px;width:75px;height:25px;line-height:25px;font-size:19.5px;font-weight:bold;color:#000;text-align:center;">153.9</div>
<div class="t" style="left:751px;top:859px;width:114px;height:25px;line-height:25px;font-size:15.7px;font-weight:normal;color:#000;text-align:left;transform:scaleX(0.912);transform-origin:left center;"><span class="ct cr">c</span>CA/livre vivant</div>
<div class="t" style="left:121.5px;top:884px;width:161px;height:25px;line-height:25px;font-size:16.8px;font-weight:normal;color:#000;text-align:center;transform:scaleX(0.935);transform-origin:center center;">Août'21</div>
<div class="t" style="left:283px;top:884px;width:92px;height:25px;line-height:25px;font-size:19.5px;font-weight:bold;color:#00b050;text-align:center;">0.33 <span class="ct">c</span></div>
<div class="t" style="left:375.5px;top:884px;width:79px;height:25px;line-height:25px;font-size:19.5px;font-weight:bold;color:#000;text-align:center;">121.20</div>
<div class="t" style="left:457px;top:884px;width:124px;height:25px;line-height:25px;font-size:15.7px;font-weight:normal;color:#000;text-align:left;transform:scaleX(0.912);transform-origin:left center;"><span class="ct cr">c</span>US/livre vivant</div>
<div class="t" style="left:583px;top:884px;width:91px;height:25px;line-height:25px;font-size:19.5px;font-weight:bold;color:#00b050;text-align:center;">0.68 <span class="ct">c</span></div>
<div class="t" style="left:675px;top:884px;width:75px;height:25px;line-height:25px;font-size:19.5px;font-weight:bold;color:#000;text-align:center;">152.7</div>
<div class="t" style="left:751px;top:884px;width:114px;height:25px;line-height:25px;font-size:15.7px;font-weight:normal;color:#000;text-align:left;transform:scaleX(0.912);transform-origin:left center;"><span class="ct cr">c</span>CA/livre vivant</div>
<div class="t" style="left:121.5px;top:909px;width:161px;height:25px;line-height:25px;font-size:16.8px;font-weight:normal;color:#000;text-align:center;transform:scaleX(0.935);transform-origin:center center;">Octobre'21</div>
<div class="t" style="left:283px;top:909px;width:92px;height:25px;line-height:25px;font-size:19.5px;font-weight:bold;color:#00b050;text-align:center;">0.10 <span class="ct">c</span></div>
<div class="t" style="left:375.5px;top:909px;width:79px;height:25px;line-height:25px;font-size:19.5px;font-weight:bold;color:#000;text-align:center;">124.23</div>
<div class="t" style="left:457px;top:909px;width:124px;height:25px;line-height:25px;font-size:15.7px;font-weight:normal;color:#000;text-align:left;transform:scaleX(0.912);transform-origin:left center;"><span class="ct cr">c</span>US/livre vivant</div>
<div class="t" style="left:583px;top:909px;width:91px;height:25px;line-height:25px;font-size:19.5px;font-weight:bold;color:#00b050;text-align:center;">0.40 <span class="ct">c</span></div>
<div class="t" style="left:675px;top:909px;width:75px;height:25px;line-height:25px;font-size:19.5px;font-weight:bold;color:#000;text-align:center;">156.5</div>
<div class="t" style="left:751px;top:909px;width:114px;height:25px;line-height:25px;font-size:15.7px;font-weight:normal;color:#000;text-align:left;transform:scaleX(0.912);transform-origin:left center;"><span class="ct cr">c</span>CA/livre vivant</div>
<div class="t" style="left:121.5px;top:934px;width:161px;height:25px;line-height:25px;font-size:16.8px;font-weight:normal;color:#000;text-align:center;transform:scaleX(0.935);transform-origin:center center;">Décembre'21</div>
<div class="t" style="left:283px;top:934px;width:92px;height:25px;line-height:25px;font-size:19.5px;font-weight:bold;color:#ff0000;text-align:center;">-0.13 <span class="ct">c</span></div>
<div class="t" style="left:375.5px;top:934px;width:79px;height:25px;line-height:25px;font-size:19.5px;font-weight:bold;color:#000;text-align:center;">126.45</div>
<div class="t" style="left:457px;top:934px;width:124px;height:25px;line-height:25px;font-size:15.7px;font-weight:normal;color:#000;text-align:left;transform:scaleX(0.912);transform-origin:left center;"><span class="ct cr">c</span>US/livre vivant</div>
<div class="t" style="left:583px;top:934px;width:91px;height:25px;line-height:25px;font-size:19.5px;font-weight:bold;color:#00b050;text-align:center;">0.12 <span class="ct">c</span></div>
<div class="t" style="left:675px;top:934px;width:75px;height:25px;line-height:25px;font-size:19.5px;font-weight:bold;color:#000;text-align:center;">159.3</div>
<div class="t" style="left:751px;top:934px;width:114px;height:25px;line-height:25px;font-size:15.7px;font-weight:normal;color:#000;text-align:left;transform:scaleX(0.912);transform-origin:left center;"><span class="ct cr">c</span>CA/livre vivant</div>
<div class="t" style="left:121.5px;top:959px;width:161px;height:25px;line-height:25px;font-size:16.8px;font-weight:normal;color:#000;text-align:center;transform:scaleX(0.935);transform-origin:center center;">Février'22</div>
<div class="t" style="left:283px;top:959px;width:92px;height:25px;line-height:25px;font-size:19.5px;font-weight:bold;color:#ff0000;text-align:center;">-0.25 <span class="ct">c</span></div>
<div class="t" style="left:375.5px;top:959px;width:79px;height:25px;line-height:25px;font-size:19.5px;font-weight:bold;color:#000;text-align:center;">128.88</div>
<div class="t" style="left:457px;top:959px;width:124px;height:25px;line-height:25px;font-size:15.7px;font-weight:normal;color:#000;text-align:left;transform:scaleX(0.912);transform-origin:left center;"><span class="ct cr">c</span>US/livre vivant</div>
<div class="t" style="left:583px;top:959px;width:91px;height:25px;line-height:25px;font-size:19.5px;font-weight:bold;color:#ff0000;text-align:center;">-0.03 <span class="ct">c</span></div>
<div class="t" style="left:675px;top:959px;width:75px;height:25px;line-height:25px;font-size:19.5px;font-weight:bold;color:#000;text-align:center;">162.4</div>
<div class="t" style="left:751px;top:959px;width:114px;height:25px;line-height:25px;font-size:15.7px;font-weight:normal;color:#000;text-align:left;transform:scaleX(0.912);transform-origin:left center;"><span class="ct cr">c</span>CA/livre vivant</div>
<div style="left:121px;top:1008px;width:745px;height:25px;background:#daeef3;"></div>
<div style="left:121px;top:1033px;width:745px;height:25px;background:#ffffff;"></div>
<div style="left:121px;top:1058px;width:745px;height:25px;background:#daeef3;"></div>
<div style="left:121px;top:1083px;width:745px;height:25px;background:#ffffff;"></div>
<div style="left:121px;top:1108px;width:745px;height:25px;background:#daeef3;"></div>
<div style="left:121px;top:1133px;width:745px;height:25px;background:#ffffff;"></div>
<div style="left:1px;top:1008px;width:120px;height:150px;background:#92cddc;"></div>
<div class="t" style="left:121.5px;top:1009px;width:161px;height:25px;line-height:25px;font-size:16.8px;font-weight:normal;color:#000;text-align:center;transform:scaleX(0.935);transform-origin:center center;">Indice prix cash</div>
<div class="t" style="left:283px;top:1009px;width:92px;height:25px;line-height:25px;font-size:19.5px;font-weight:bold;color:#00b050;text-align:center;">1.13 <span class="ct">c</span></div>
<div class="t" style="left:375.5px;top:1009px;width:79px;height:25px;line-height:25px;font-size:19.5px;font-weight:bold;color:#000;text-align:center;">136.75</div>
<div class="t" style="left:457px;top:1009px;width:124px;height:25px;line-height:25px;font-size:15.7px;font-weight:normal;color:#000;text-align:left;transform:scaleX(0.912);transform-origin:left center;"><span class="ct cr">c</span>US/livre vivant</div>
<div class="t" style="left:583px;top:1009px;width:91px;height:25px;line-height:25px;font-size:19.5px;font-weight:bold;color:#00b050;text-align:center;">0.30 <span class="ct">c</span></div>
<div class="t" style="left:675px;top:1009px;width:75px;height:25px;line-height:25px;font-size:19.5px;font-weight:bold;color:#000;text-align:center;">172.3</div>
<div class="t" style="left:751px;top:1009px;width:114px;height:25px;line-height:25px;font-size:15.7px;font-weight:normal;color:#000;text-align:left;transform:scaleX(0.912);transform-origin:left center;"><span class="ct cr">c</span>CA/livre vivant</div>
<div class="t" style="left:121.5px;top:1034px;width:161px;height:25px;line-height:25px;font-size:16.8px;font-weight:normal;color:#000;text-align:center;transform:scaleX(0.935);transform-origin:center center;">Mars'21</div>
<div class="t" style="left:283px;top:1034px;width:92px;height:25px;line-height:25px;font-size:19.5px;font-weight:bold;color:#00b050;text-align:center;">0.60 <span class="ct">c</span></div>
<div class="t" style="left:375.5px;top:1034px;width:79px;height:25px;line-height:25px;font-size:19.5px;font-weight:bold;color:#000;text-align:center;">136.75</div>
<div class="t" style="left:457px;top:1034px;width:124px;height:25px;line-height:25px;font-size:15.7px;font-weight:normal;color:#000;text-align:left;transform:scaleX(0.912);transform-origin:left center;"><span class="ct cr">c</span>US/livre vivant</div>
<div class="t" style="left:583px;top:1034px;width:91px;height:25px;line-height:25px;font-size:19.5px;font-weight:bold;color:#00b050;text-align:center;">0.30 <span class="ct">c</span></div>
<div class="t" style="left:675px;top:1034px;width:75px;height:25px;line-height:25px;font-size:19.5px;font-weight:bold;color:#000;text-align:center;">172.3</div>
<div class="t" style="left:751px;top:1034px;width:114px;height:25px;line-height:25px;font-size:15.7px;font-weight:normal;color:#000;text-align:left;transform:scaleX(0.912);transform-origin:left center;"><span class="ct cr">c</span>CA/livre vivant</div>
<div class="t" style="left:121.5px;top:1059px;width:161px;height:25px;line-height:25px;font-size:16.8px;font-weight:normal;color:#000;text-align:center;transform:scaleX(0.935);transform-origin:center center;">Avril'21</div>
<div class="t" style="left:283px;top:1059px;width:92px;height:25px;line-height:25px;font-size:19.5px;font-weight:bold;color:#00b050;text-align:center;">0.15 <span class="ct">c</span></div>
<div class="t" style="left:375.5px;top:1059px;width:79px;height:25px;line-height:25px;font-size:19.5px;font-weight:bold;color:#000;text-align:center;">145.28</div>
<div class="t" style="left:457px;top:1059px;width:124px;height:25px;line-height:25px;font-size:15.7px;font-weight:normal;color:#000;text-align:left;transform:scaleX(0.912);transform-origin:left center;"><span class="ct cr">c</span>US/livre vivant</div>
<div class="t" style="left:583px;top:1059px;width:91px;height:25px;line-height:25px;font-size:19.5px;font-weight:bold;color:#00b050;text-align:center;">0.51 <span class="ct">c</span></div>
<div class="t" style="left:675px;top:1059px;width:75px;height:25px;line-height:25px;font-size:19.5px;font-weight:bold;color:#000;text-align:center;">183.0</div>
<div class="t" style="left:751px;top:1059px;width:114px;height:25px;line-height:25px;font-size:15.7px;font-weight:normal;color:#000;text-align:left;transform:scaleX(0.912);transform-origin:left center;"><span class="ct cr">c</span>CA/livre vivant</div>
<div class="t" style="left:121.5px;top:1084px;width:161px;height:25px;line-height:25px;font-size:16.8px;font-weight:normal;color:#000;text-align:center;transform:scaleX(0.935);transform-origin:center center;">Mai'21</div>
<div class="t" style="left:283px;top:1084px;width:92px;height:25px;line-height:25px;font-size:19.5px;font-weight:bold;color:#00b050;text-align:center;">0.20 <span class="ct">c</span></div>
<div class="t" style="left:375.5px;top:1084px;width:79px;height:25px;line-height:25px;font-size:19.5px;font-weight:bold;color:#000;text-align:center;">150.08</div>
<div class="t" style="left:457px;top:1084px;width:124px;height:25px;line-height:25px;font-size:15.7px;font-weight:normal;color:#000;text-align:left;transform:scaleX(0.912);transform-origin:left center;"><span class="ct cr">c</span>US/livre vivant</div>
<div class="t" style="left:583px;top:1084px;width:91px;height:25px;line-height:25px;font-size:19.5px;font-weight:bold;color:#00b050;text-align:center;">0.58 <span class="ct">c</span></div>
<div class="t" style="left:675px;top:1084px;width:75px;height:25px;line-height:25px;font-size:19.5px;font-weight:bold;color:#000;text-align:center;">189.1</div>
<div class="t" style="left:751px;top:1084px;width:114px;height:25px;line-height:25px;font-size:15.7px;font-weight:normal;color:#000;text-align:left;transform:scaleX(0.912);transform-origin:left center;"><span class="ct cr">c</span>CA/livre vivant</div>
<div class="t" style="left:121.5px;top:1109px;width:161px;height:25px;line-height:25px;font-size:16.8px;font-weight:normal;color:#000;text-align:center;transform:scaleX(0.935);transform-origin:center center;">Août'21</div>
<div class="t" style="left:283px;top:1109px;width:92px;height:25px;line-height:25px;font-size:19.5px;font-weight:bold;color:#000000;text-align:center;">0.00 <span class="ct">c</span></div>
<div class="t" style="left:375.5px;top:1109px;width:79px;height:25px;line-height:25px;font-size:19.5px;font-weight:bold;color:#000;text-align:center;">158.45</div>
<div class="t" style="left:457px;top:1109px;width:124px;height:25px;line-height:25px;font-size:15.7px;font-weight:normal;color:#000;text-align:left;transform:scaleX(0.912);transform-origin:left center;"><span class="ct cr">c</span>US/livre vivant</div>
<div class="t" style="left:583px;top:1109px;width:91px;height:25px;line-height:25px;font-size:19.5px;font-weight:bold;color:#00b050;text-align:center;">0.35 <span class="ct">c</span></div>
<div class="t" style="left:675px;top:1109px;width:75px;height:25px;line-height:25px;font-size:19.5px;font-weight:bold;color:#000;text-align:center;">199.6</div>
<div class="t" style="left:751px;top:1109px;width:114px;height:25px;line-height:25px;font-size:15.7px;font-weight:normal;color:#000;text-align:left;transform:scaleX(0.912);transform-origin:left center;"><span class="ct cr">c</span>CA/livre vivant</div>
<div class="t" style="left:121.5px;top:1134px;width:161px;height:25px;line-height:25px;font-size:16.8px;font-weight:normal;color:#000;text-align:center;transform:scaleX(0.935);transform-origin:center center;">Septembre'21</div>
<div class="t" style="left:283px;top:1134px;width:92px;height:25px;line-height:25px;font-size:19.5px;font-weight:bold;color:#000000;text-align:center;">0.00 <span class="ct">c</span></div>
<div class="t" style="left:375.5px;top:1134px;width:79px;height:25px;line-height:25px;font-size:19.5px;font-weight:bold;color:#000;text-align:center;">158.83</div>
<div class="t" style="left:457px;top:1134px;width:124px;height:25px;line-height:25px;font-size:15.7px;font-weight:normal;color:#000;text-align:left;transform:scaleX(0.912);transform-origin:left center;"><span class="ct cr">c</span>US/livre vivant</div>
<div class="t" style="left:583px;top:1134px;width:91px;height:25px;line-height:25px;font-size:19.5px;font-weight:bold;color:#00b050;text-align:center;">0.35 <span class="ct">c</span></div>
<div class="t" style="left:675px;top:1134px;width:75px;height:25px;line-height:25px;font-size:19.5px;font-weight:bold;color:#000;text-align:center;">200.1</div>
<div class="t" style="left:751px;top:1134px;width:114px;height:25px;line-height:25px;font-size:15.7px;font-weight:normal;color:#000;text-align:left;transform:scaleX(0.912);transform-origin:left center;"><span class="ct cr">c</span>CA/livre vivant</div>
<div style="left:122px;top:507px;width:160px;height:22px;background:#000;"></div>
<div style="left:121px;top:507px;width:1px;height:22px;background:#a4dbe9;"></div>
<div class="t" style="left:121px;top:508px;width:161px;height:23px;line-height:23px;font-size:16.8px;font-weight:normal;color:#000;text-align:center;transform:scaleX(0.935);transform-origin:center center;-webkit-text-stroke:0.5px #6a5440;">Indice CME cutout</div>
<div style="left:121px;top:1183px;width:745px;height:24px;background:#daeef3;"></div>
<div style="left:1px;top:1183px;width:120px;height:24px;background:#92cddc;"></div>
<div class="t" style="left:1px;top:1px;width:281px;height:45px;line-height:45px;font-size:21.6px;font-weight:bold;color:#000;text-align:center;transform:scaleX(0.99);transform-origin:center center;">3/29/21 9:56</div>
<div class="t" style="left:283px;top:2px;width:299px;height:22px;line-height:22px;font-size:21px;font-weight:bold;color:#000;text-align:center;transform:scaleX(0.99);transform-origin:center center;">Dollar Américain - CME</div>
<div class="t" style="left:583px;top:2px;width:283px;height:22px;line-height:22px;font-size:21px;font-weight:bold;color:#000;text-align:center;">Dollar Canadien</div>
<div class="t" style="left:283px;top:24px;width:92px;height:22px;line-height:22px;font-size:19.5px;font-weight:bold;color:#000;text-align:center;">Variation</div>
<div class="t" style="left:375px;top:24px;width:79px;height:22px;line-height:22px;font-size:19.5px;font-weight:bold;color:#000;text-align:center;">Prix</div>
<div class="t" style="left:454px;top:24px;width:128px;height:22px;line-height:22px;font-size:19.5px;font-weight:bold;color:#000;text-align:center;">Unité</div>
<div class="t" style="left:583px;top:24px;width:91px;height:22px;line-height:22px;font-size:19.5px;font-weight:bold;color:#000;text-align:center;">Variation</div>
<div class="t" style="left:675px;top:24px;width:75px;height:22px;line-height:22px;font-size:19.5px;font-weight:bold;color:#000;text-align:center;">Prix</div>
<div class="t" style="left:750px;top:24px;width:116px;height:22px;line-height:22px;font-size:19.5px;font-weight:bold;color:#000;text-align:center;">Unité</div>
<div class="t" style="left:1px;top:1185px;width:120px;height:24px;line-height:24px;font-size:21px;font-weight:bold;color:#000;text-align:center;transform:scaleX(0.985);transform-origin:center center;">CAD</div>
<div class="t" style="left:122px;top:1184px;width:161px;height:24px;line-height:24px;font-size:16.5px;font-weight:normal;color:#000;text-align:center;transform:scaleX(0.95);transform-origin:center center;">SPOT</div>
<div class="t" style="left:283px;top:1185px;width:92px;height:24px;line-height:24px;font-size:20px;font-weight:bold;color:#ff0000;text-align:center;transform:scaleX(0.965);transform-origin:center center;">-0.0014</div>
<div class="t" style="left:375px;top:1185px;width:79px;height:24px;line-height:24px;font-size:19.5px;font-weight:bold;color:#000;text-align:center;transform:scaleX(0.96);transform-origin:center center;">0.794</div>
<div class="t" style="left:459px;top:1185px;width:124px;height:24px;line-height:24px;font-size:15.7px;font-weight:normal;color:#000;text-align:left;transform:scaleX(0.909);transform-origin:left center;">$US par 1 $CA</div>
<div class="t" style="left:583px;top:1185px;width:91px;height:24px;line-height:24px;font-size:20px;font-weight:bold;color:#00b050;text-align:center;transform:scaleX(0.965);transform-origin:center center;">0.0023</div>
<div class="t" style="left:675px;top:1185px;width:75px;height:24px;line-height:24px;font-size:19.5px;font-weight:bold;color:#000;text-align:center;transform:scaleX(0.96);transform-origin:center center;">1.260</div>
<div class="t" style="left:752px;top:1185px;width:114px;height:24px;line-height:24px;font-size:15.7px;font-weight:normal;color:#000;text-align:left;transform:scaleX(0.928);transform-origin:left center;">$CA par 1 $US</div>
<div class="r" style="left:60.5px;top:252.5px;font-size:23.75px;line-height:27.312499999999996px">Porc carcasse (cash)</div>
<div class="r" style="left:49.3px;top:644.7px;font-size:24px;line-height:27.599999999999998px">Porc découpé (cutout) <span style="font-size:20px;letter-spacing:-0.4px">*Prix</span></div>
<div class="r" style="left:80px;top:644.5px;font-size:18.9px;line-height:21.734999999999996px">CAD à 90%</div>
<div class="r" style="left:60px;top:908px;font-size:21.33px;line-height:24.529499999999995px">Bœuf vivant</div>
<div class="r" style="left:46.2px;top:1082px;font-size:22px;line-height:25.299999999999997px">Veau</div>
<div class="r" style="left:74px;top:1082px;font-size:21.33px;line-height:24.529499999999995px">d'embouche</div>
<div style="left:0px;top:0px;width:866px;height:1px;background:#000;"></div>
<div style="left:121px;top:0px;width:1px;height:1px;background:#d8d4d4;"></div>
<div style="left:375px;top:0px;width:1px;height:1px;background:#d8d4d4;"></div>
<div style="left:454px;top:0px;width:1px;height:1px;background:#d8d4d4;"></div>
<div style="left:674px;top:0px;width:1px;height:1px;background:#d8d4d4;"></div>
<div style="left:750px;top:0px;width:1px;height:1px;background:#d8d4d4;"></div>
<div style="left:0px;top:46px;width:866px;height:1px;background:#000;"></div>
<div style="left:0px;top:460px;width:866px;height:1px;background:#000;"></div>
<div style="left:0px;top:483px;width:866px;height:1px;background:#000;"></div>
<div style="left:0px;top:808px;width:866px;height:1px;background:#000;"></div>
<div style="left:0px;top:833px;width:866px;height:1px;background:#000;"></div>
<div style="left:0px;top:983px;width:866px;height:1px;background:#000;"></div>
<div style="left:0px;top:1008px;width:866px;height:1px;background:#000;"></div>
<div style="left:0px;top:1158px;width:866px;height:1px;background:#000;"></div>
<div style="left:0px;top:1183px;width:866px;height:1px;background:#000;"></div>
<div style="left:0px;top:0px;width:1px;height:1207px;background:#000;"></div>
<div style="left:282px;top:0px;width:1px;height:984px;background:#000;"></div>
<div style="left:282px;top:1008px;width:1px;height:151px;background:#000;"></div>
<div style="left:282px;top:1183px;width:1px;height:24px;background:#000;"></div>
<div style="left:582px;top:0px;width:1px;height:984px;background:#000;"></div>
<div style="left:582px;top:1008px;width:1px;height:199px;background:#000;"></div>
<div style="left:866px;top:0px;width:3px;height:1210px;background:#000;"></div>
<div style="left:0px;top:1207px;width:869px;height:3px;background:#000;"></div>
</body></html>
